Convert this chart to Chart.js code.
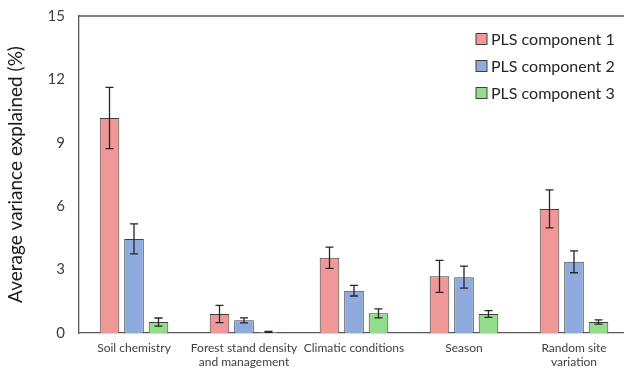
<!DOCTYPE html>
<html>
<head>
<meta charset="utf-8">
<script src="https://cdn.jsdelivr.net/npm/chart.js@4/dist/chart.umd.min.js"></script>
<style>
  html, body { margin: 0; padding: 0; background: #fff; overflow: hidden; }
  #wrap { width: 630px; height: 373px; }
</style>
</head>
<body>
<div id="wrap"><canvas id="bar_chart"></canvas></div>
<script>
var categories = [["Soil chemistry"], ["Forest stand density", "and management"], ["Climatic conditions"], ["Season"], ["Random site", "variation"]];
var seriesNames = ["PLS component 1", "PLS component 2", "PLS component 3"];
var comp1 = [10.17, 0.90, 3.56, 2.68, 5.87];
var comp2 = [4.45, 0.60, 2.00, 2.64, 3.37];
var comp3 = [0.52, 0.05, 0.93, 0.90, 0.52];
var err1 = [1.45, 0.41, 0.50, 0.76, 0.90];
var err2 = [0.71, 0.12, 0.25, 0.52, 0.52];
var err3 = [0.19, 0.02, 0.21, 0.16, 0.10];
var yTicks = [0, 3, 6, 9, 12, 15];
var colors = ["#F09898", "#8FAADC", "#94DC8C"];

var FONT = "Lato, 'Open Sans', sans-serif";

// error bars drawn from the y scale
var errorBars = {
    id: 'errorBars',
    afterDatasetsDraw: function (chart) {
        var ctx = chart.ctx;
        var y = chart.scales.y;
        chart.data.datasets.forEach(function (ds, i) {
            var meta = chart.getDatasetMeta(i);
            meta.data.forEach(function (bar, j) {
                var v = ds.data[j], e = ds.errors[j];
                var top = y.getPixelForValue(v + e);
                var bot = y.getPixelForValue(Math.max(v - e, 0));
                ctx.save();
                ctx.strokeStyle = "#262626";
                ctx.lineWidth = 1.3;
                ctx.beginPath();
                ctx.moveTo(bar.x, top); ctx.lineTo(bar.x, bot);
                ctx.moveTo(bar.x - 4, top); ctx.lineTo(bar.x + 4, top);
                ctx.moveTo(bar.x - 4, bot); ctx.lineTo(bar.x + 4, bot);
                ctx.stroke();
                ctx.restore();
            });
        });
    }
};

// top frame line of the plot
var topFrame = {
    id: 'topFrame',
    beforeDatasetsDraw: function (chart) {
        var a = chart.chartArea, ctx = chart.ctx;
        ctx.save();
        ctx.strokeStyle = "#595959";
        ctx.lineWidth = 1.3;
        ctx.beginPath();
        ctx.moveTo(a.left, a.top);
        ctx.lineTo(a.right, a.top);
        ctx.stroke();
        ctx.restore();
    }
};

// legend inside the plot, top right
var boxLegend = {
    id: 'boxLegend',
    afterDraw: function (chart) {
        var ctx = chart.ctx;
        ctx.save();
        ctx.font = "16px " + FONT;
        ctx.textBaseline = "middle";
        chart.data.datasets.forEach(function (ds, i) {
            var cy = 39 + i * 27;
            ctx.fillStyle = ds.backgroundColor;
            ctx.fillRect(476, cy - 5.5, 11, 11);
            ctx.strokeStyle = "#404040";
            ctx.lineWidth = 1;
            ctx.strokeRect(476, cy - 5.5, 11, 11);
            ctx.fillStyle = "#262626";
            ctx.fillText(ds.label, 491, cy + 1);
        });
        ctx.restore();
    }
};

var ctx = document.getElementById("bar_chart");

var myBarChart = new Chart(ctx, {
    type: 'bar',
    data: {
        labels: categories,
        datasets: [
            { label: seriesNames[0], data: comp1, errors: err1, backgroundColor: colors[0], borderColor: "#404040", borderWidth: 1 },
            { label: seriesNames[1], data: comp2, errors: err2, backgroundColor: colors[1], borderColor: "#404040", borderWidth: 1 },
            { label: seriesNames[2], data: comp3, errors: err3, backgroundColor: colors[2], borderColor: "#404040", borderWidth: 1 }
        ]
    },
    options: {
        responsive: true,
        maintainAspectRatio: false,
        animation: false,
        layout: { padding: { left: 0, top: 16, right: 1, bottom: 0 } },
        datasets: { bar: { categoryPercentage: 0.668, barPercentage: 0.8 } },
        plugins: {
            legend: { display: false },
            tooltip: { enabled: false }
        },
        scales: {
            x: {
                grid: { display: false, drawTicks: false },
                border: { display: true, color: "#595959", width: 1.3 },
                ticks: { color: "#404040", font: { family: FONT, size: 12 }, padding: 8, maxRotation: 0, autoSkip: false },
                afterFit: function (s) { s.height = 40; }
            },
            y: {
                min: 0,
                max: 15,
                afterBuildTicks: function (s) { s.ticks = yTicks.map(function (v) { return { value: v }; }); },
                grid: { display: false, drawTicks: false },
                border: { display: true, color: "#595959", width: 1.3 },
                ticks: { color: "#404040", font: { family: FONT, size: 15 }, padding: 14 },
                title: { display: true, text: "Average variance explained (%)", color: "#1a1a1a", font: { family: FONT, size: 19 }, padding: { top: 4, bottom: 0 } },
                afterFit: function (s) { s.width = 79; s.paddingTop = 0; s.paddingBottom = 0; }
            }
        }
    },
    plugins: [errorBars, topFrame, boxLegend]
});
</script>
</body>
</html>
